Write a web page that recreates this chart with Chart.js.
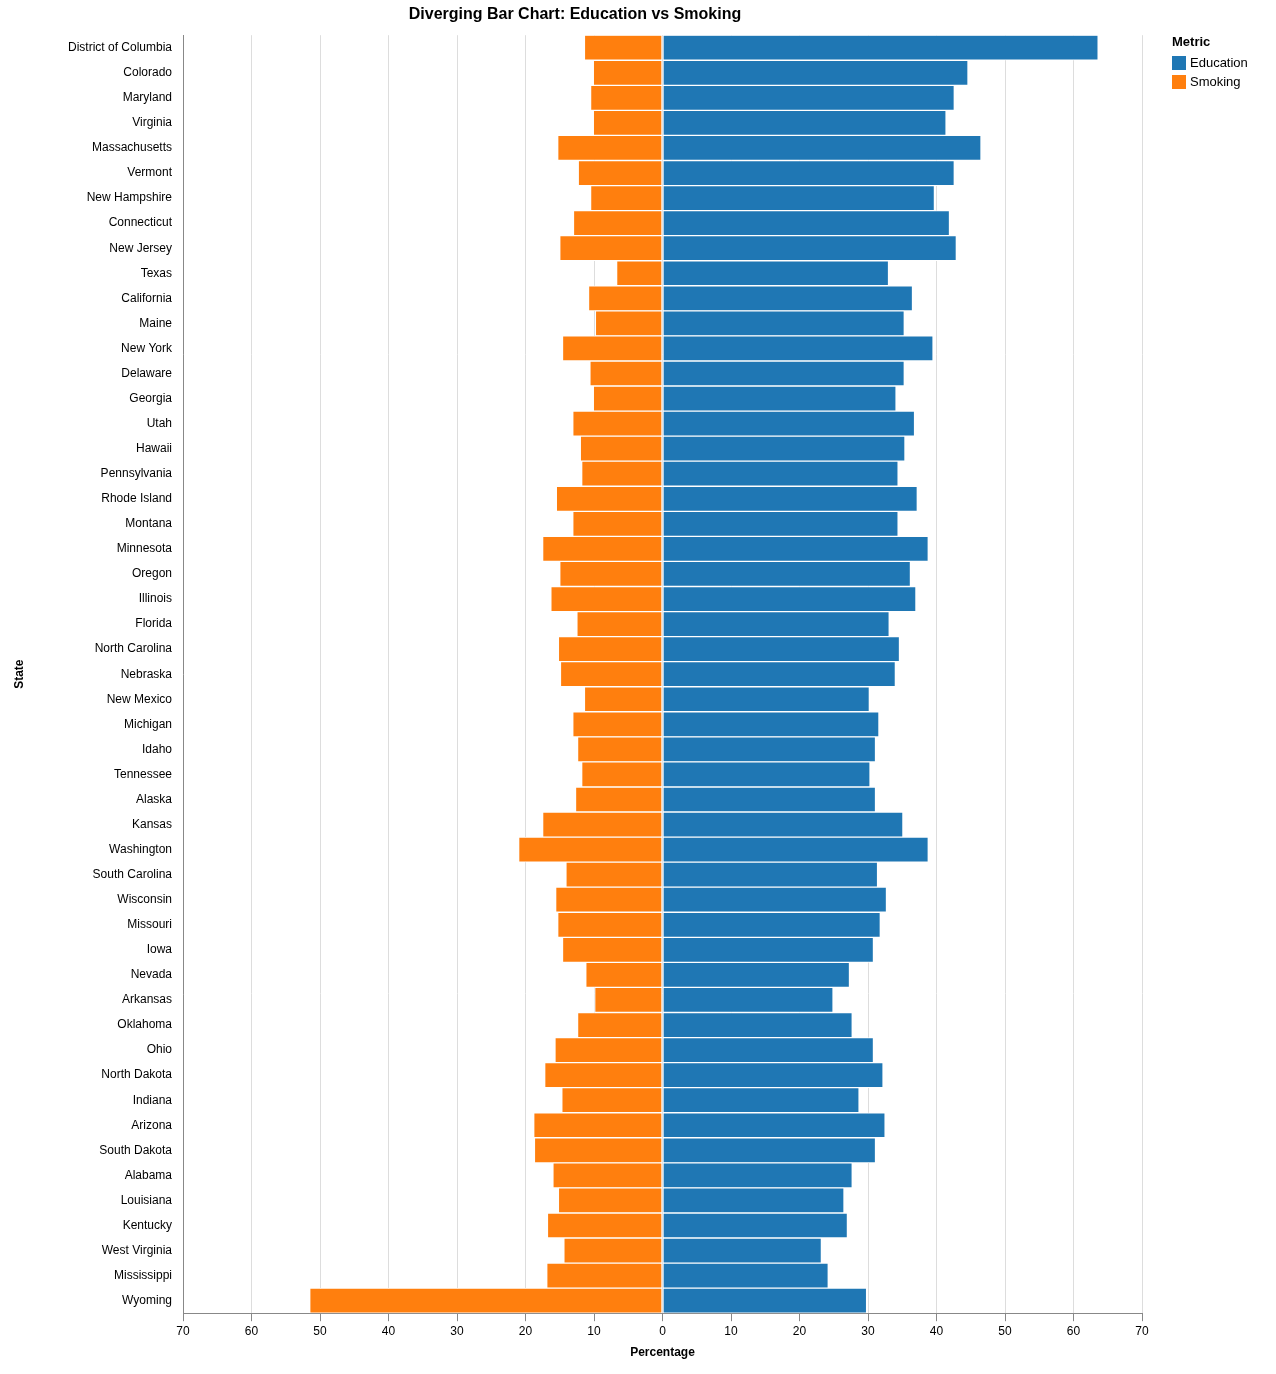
<!DOCTYPE html>
<html>
<head>
<meta charset="utf-8">
<script src="https://cdn.jsdelivr.net/npm/chart.js@4"></script>
<style>
  body { margin: 0; background: #fff; font-family: "Liberation Sans", Arial, sans-serif; }
  #wrap { position: relative; width: 1276px; height: 1374px; }
  #legend { position: absolute; left: 1172px; top: 34px; font-size: 13px; }
  #legend .t { font-weight: bold; margin-bottom: 4px; }
  #legend .i { display: flex; align-items: center; height: 19px; }
  #legend .s { width: 14px; height: 14px; margin-right: 4px; }
</style>
</head>
<body>
<div id="wrap">
  <canvas id="chart" width="1276" height="1374"></canvas>
  <div id="legend">
    <div class="t">Metric</div>
    <div class="i"><span class="s" style="background:#1f77b4"></span>Education</div>
    <div class="i"><span class="s" style="background:#ff7f0e"></span>Smoking</div>
  </div>
</div>
<script>
// Estados ordenados como en la figura
const states = ['District of Columbia','Colorado','Maryland','Virginia','Massachusetts','Vermont','New Hampshire','Connecticut','New Jersey','Texas','California','Maine','New York','Delaware','Georgia','Utah','Hawaii','Pennsylvania','Rhode Island','Montana','Minnesota','Oregon','Illinois','Florida','North Carolina','Nebraska','New Mexico','Michigan','Idaho','Tennessee','Alaska','Kansas','Washington','South Carolina','Wisconsin','Missouri','Iowa','Nevada','Arkansas','Oklahoma','Ohio','North Dakota','Indiana','Arizona','South Dakota','Alabama','Louisiana','Kentucky','West Virginia','Mississippi','Wyoming'];

const education = [63.6,44.6,42.6,41.4,46.5,42.6,39.7,41.9,42.9,33.0,36.5,35.3,39.5,35.3,34.1,36.8,35.4,34.4,37.2,34.4,38.8,36.2,37.0,33.1,34.6,34.0,30.2,31.6,31.1,30.3,31.1,35.1,38.8,31.4,32.7,31.8,30.8,27.3,24.9,27.7,30.8,32.2,28.7,32.5,31.1,27.7,26.5,27.0,23.2,24.2,29.8];

const smoking = [11.4,10.1,10.5,10.1,15.3,12.3,10.5,13.0,15.0,6.7,10.8,9.8,14.6,10.6,10.1,13.1,12.0,11.8,15.5,13.1,17.5,15.0,16.3,12.5,15.2,14.9,11.4,13.1,12.4,11.8,12.7,17.5,21.0,14.1,15.6,15.3,14.6,11.2,9.9,12.4,15.7,17.2,14.7,18.8,18.7,16.0,15.2,16.8,14.4,16.9,51.5];

const font = { family: '"Liberation Sans", Arial, sans-serif', size: 12 };

new Chart(document.getElementById('chart').getContext('2d'), {
  type: 'bar',
  data: {
    labels: states,
    datasets: [
      { label: 'Education', data: education, backgroundColor: '#1f77b4',
        borderColor: '#fff', borderWidth: 1, borderSkipped: false },
      { label: 'Smoking', data: smoking.map(v => -v), backgroundColor: '#ff7f0e',
        borderColor: '#fff', borderWidth: 1, borderSkipped: false }
    ]
  },
  options: {
    indexAxis: 'y',
    responsive: false,
    animation: false,
    barPercentage: 1,
    categoryPercentage: 1,
    layout: { padding: { left: 8, right: 134, top: 0, bottom: 10 } },
    plugins: {
      legend: { display: false },
      tooltip: { enabled: false },
      title: {
        display: true, text: 'Diverging Bar Chart: Education vs Smoking',
        color: '#000', font: { ...font, size: 16, weight: 'bold' },
        padding: { top: 5, bottom: 11 }
      }
    },
    scales: {
      x: {
        stacked: true, min: -70, max: 70,
        ticks: { stepSize: 10, color: '#000', font: font, callback: v => Math.abs(v) },
        grid: { color: '#ddd', tickColor: '#888' },
        border: { color: '#888' },
        title: { display: true, text: 'Percentage', color: '#000', font: { ...font, weight: 'bold' } }
      },
      y: {
        stacked: true,
        ticks: { color: '#000', font: font, autoSkip: false },
        grid: { display: false, tickColor: '#888', drawTicks: true },
        border: { color: '#888' },
        title: { display: true, text: 'State', color: '#000', font: { ...font, weight: 'bold' } },
        afterFit: s => { s.width = 175; }
      }
    }
  }
});
</script>
</body>
</html>
